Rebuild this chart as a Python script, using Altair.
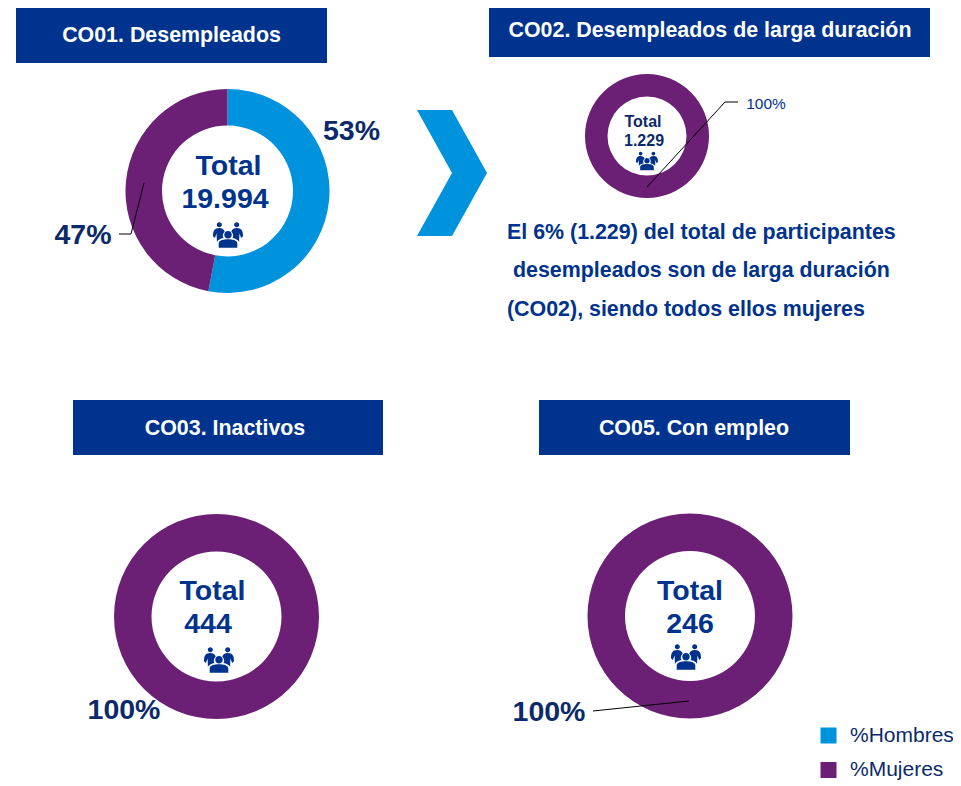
import altair as alt
import pandas as pd

NAVY = "#00338D"
DARK = "#0B2A6B"
BLUE = "#0093DD"
PURPLE = "#6B2076"

series = ["%Hombres", "%Mujeres"]
co01 = [53, 47]
co02 = [0, 100]
co03 = [0, 100]
co05 = [0, 100]
banner_texts = ["CO01. Desempleados", "CO02. Desempleados de larga duración", "CO03. Inactivos", "CO05. Con empleo"]
paragraph = ["El 6% (1.229) del total de participantes", "desempleados son de larga duración", "(CO02), siendo todos ellos mujeres"]

CHEVRON = "M -0.556 -1 L 0 -1 L 0.556 0 L 0 1 L -0.556 1 L 0 0 Z"


def circle(cx, cy, r):
    return f"M {cx - r} {cy} a {r} {r} 0 1 0 {2 * r} 0 a {r} {r} 0 1 0 {-2 * r} 0 Z "


PEOPLE = (
    circle(-0.58, -0.68, 0.17) + circle(0.58, -0.68, 0.17) + circle(0, -0.02, 0.25)
    + "M -0.88 0.2 L -1 0.08 C -1 -0.25 -0.92 -0.46 -0.58 -0.46 C -0.38 -0.46 -0.28 -0.36 -0.22 -0.24 "
    + "C -0.36 -0.1 -0.38 0.1 -0.3 0.2 C -0.5 0.24 -0.68 0.32 -0.74 0.46 L -0.76 -0.1 Z "
    + "M 0.88 0.2 L 1 0.08 C 1 -0.25 0.92 -0.46 0.58 -0.46 C 0.38 -0.46 0.28 -0.36 0.22 -0.24 "
    + "C 0.36 -0.1 0.38 0.1 0.3 0.2 C 0.5 0.24 0.68 0.32 0.74 0.46 L 0.76 -0.1 Z "
    + "M -0.62 0.85 L -0.62 0.55 C -0.6 0.34 -0.3 0.28 0 0.28 C 0.3 0.28 0.6 0.34 0.62 0.55 L 0.62 0.85 Z"
)


def X(v):
    return alt.value(v - 8)


def Y(v):
    return alt.value(v - 8)


blank = alt.Data(values=[{"k": 1}])


def donut(values, cx, cy, r, ir, legend=None):
    df = pd.DataFrame({"serie": series, "valor": values, "idx": [0, 1]})
    color = alt.Color(
        "serie:N",
        scale=alt.Scale(domain=series, range=[BLUE, PURPLE]),
        legend=legend,
    )
    return alt.Chart(df).mark_arc(radius=r, radius2=ir).encode(
        theta=alt.Theta("valor:Q", stack=True),
        color=color,
        order=alt.Order("idx:Q"),
        x=X(cx),
        y=Y(cy),
    )


def rect(x1, x2, y1, y2, color):
    return alt.Chart(blank).mark_rect(color=color).encode(x=X(x1), x2=X(x2), y=Y(y1), y2=Y(y2))


def label(text, x, y, size, color=NAVY, bold=True, align="center"):
    return alt.Chart(alt.Data(values=[{"t": text}])).mark_text(
        font="Liberation Sans", fontSize=size, fontWeight="bold" if bold else "normal",
        color=color, align=align, baseline="middle",
    ).encode(x=X(x), y=Y(y), text="t:N")


def seg(x1, y1, x2, y2):
    return alt.Chart(blank).mark_rule(color="black", strokeWidth=1).encode(x=X(x1), x2=X(x2), y=Y(y1), y2=Y(y2))


def glyph(path, x, y, span, color):
    return alt.Chart(blank).mark_point(shape=path, filled=True, color=color, opacity=1, size=span * span, strokeWidth=0).encode(x=X(x), y=Y(y))


legend = alt.Legend(
    title=None, orient="none", legendX=810, legendY=717, symbolType="square", symbolSize=256,
    symbolStrokeWidth=0, labelFont="Liberation Sans", labelFontSize=21, labelColor=DARK,
    labelOffset=11, rowPadding=12.5, symbolOpacity=1, padding=0,
)

layers = [
    rect(16, 327, 8, 63, NAVY),
    rect(489, 930, 1, 57, NAVY),
    rect(73, 383, 400, 455, NAVY),
    rect(539, 850, 400, 455, NAVY),
    label(banner_texts[0], 171.5, 36, 21.4, "white"),
    label(banner_texts[1], 710, 31, 21.4, "white"),
    label(banner_texts[2], 225, 429, 21.4, "white"),
    label(banner_texts[3], 694, 429, 21.4, "white"),
    donut(co01, 227.5, 191, 102, 65.5, legend),
    donut(co02, 647, 136, 62, 39.5),
    donut(co03, 216.5, 616.5, 102.5, 65),
    donut(co05, 690, 616, 102.5, 65),
    glyph(CHEVRON, 452, 173, 126, BLUE),
    seg(119, 234, 131, 234), seg(131, 234, 144, 183),
    seg(738, 102, 725, 102), seg(725, 102, 647, 187),
    seg(593, 711, 689, 701),
    label("Total", 228.5, 165.5, 28.5),
    label("19.994", 225, 198.5, 28.5),
    label("53%", 351.5, 131, 28.5, DARK),
    label("47%", 83, 235, 28.5, DARK),
    label("Total", 643, 121.5, 16, DARK),
    label("1.229", 644, 140.5, 16, DARK),
    label("100%", 766, 103.5, 15.5, NAVY, bold=False),
    label(paragraph[0], 507, 233, 21.4, align="left"),
    label(paragraph[1], 513, 271, 21.4, align="left"),
    label(paragraph[2], 507, 310, 21.4, align="left"),
    label("Total", 212.5, 590.5, 28.5),
    label("444", 208, 623.5, 28.5),
    label("100%", 124, 710, 28.5, DARK),
    label("Total", 690, 590.5, 28.5),
    label("246", 690, 623.5, 28.5),
    label("100%", 549, 712, 28.5, DARK),
    glyph(PEOPLE, 228, 235, 30, NAVY),
    glyph(PEOPLE, 647, 161, 22, NAVY),
    glyph(PEOPLE, 219, 660, 30, NAVY),
    glyph(PEOPLE, 686, 657, 30, NAVY),
]

chart = alt.layer(*layers).resolve_scale(theta="independent").properties(
    width=945, height=776, padding=0, autosize=alt.AutoSizeParams(type="none"),
    background="white",
).configure_view(stroke=None)

chart.save("out.html", embed_options={"renderer": "svg", "actions": False})
